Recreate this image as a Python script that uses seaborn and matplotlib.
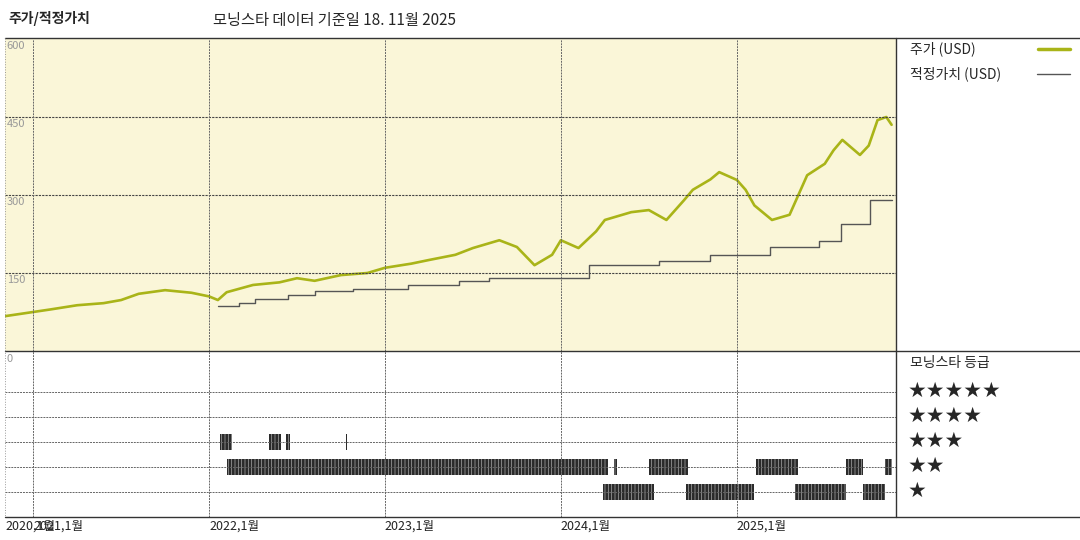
import matplotlib
matplotlib.use("Agg")
import matplotlib.pyplot as plt
import seaborn as sns
import pandas as pd

sns.set_theme(style="white")
plt.rcParams['font.family'] = ['Noto Sans CJK KR', 'DejaVu Sans']
plt.rcParams['hatch.linewidth'] = 0.5

price_t = [2020.84, 2021.0, 2021.1, 2021.25, 2021.4, 2021.5, 2021.6, 2021.75, 2021.9, 2022.0, 2022.05, 2022.1,
           2022.25, 2022.4, 2022.5, 2022.6, 2022.75, 2022.9, 2023.0, 2023.15, 2023.25, 2023.4, 2023.5, 2023.65,
           2023.75, 2023.85, 2023.95, 2024.0, 2024.1, 2024.2, 2024.25, 2024.4, 2024.5, 2024.6, 2024.7, 2024.75,
           2024.85, 2024.9, 2025.0, 2025.05, 2025.1, 2025.2, 2025.3, 2025.4, 2025.5, 2025.55, 2025.6, 2025.7,
           2025.75, 2025.8, 2025.85, 2025.88]
price_v = [67, 75, 80, 88, 92, 98, 110, 117, 112, 105, 98, 113,
           127, 132, 140, 135, 146, 150, 160, 168, 175, 185, 198, 213,
           200, 165, 185, 213, 198, 230, 252, 267, 271, 252, 290, 310,
           330, 344, 329, 310, 280, 252, 262, 338, 360, 386, 406, 377,
           395, 444, 450, 435]

fv_t = [2022.05, 2022.17, 2022.26, 2022.45, 2022.6, 2022.82, 2023.13, 2023.42, 2023.59, 2024.16, 2024.56, 2024.85,
        2025.19, 2025.47, 2025.59, 2025.76, 2025.88]
fv_v = [87, 92, 100, 108, 115, 120, 127, 135, 140, 165, 173, 185, 200, 212, 245, 290, 290]

rating_segments = {
    3: [(2022.06, 2022.13), (2022.34, 2022.41), (2022.44, 2022.46), (2022.78, 2022.785)],
    2: [(2022.10, 2024.27), (2024.30, 2024.32), (2024.50, 2024.72), (2025.11, 2025.35), (2025.62, 2025.72), (2025.84, 2025.88)],
    1: [(2024.14, 2024.145), (2024.24, 2024.53), (2024.71, 2025.10), (2025.33, 2025.62), (2025.72, 2025.84)],
}
year_labels = ["2020,1월", "2021,1월", "2022,1월", "2023,1월", "2024,1월", "2025,1월"]
year_pos = [2020.84, 2021.0, 2022.0, 2023.0, 2024.0, 2025.0]

x0, x1 = 2020.84, 2025.905
fig = plt.figure(figsize=(10.8, 5.4), dpi=100)
W, H = 1080, 540
ax = fig.add_axes([5 / W, (H - 351) / H, 891 / W, 312 / H])
ax.set_facecolor('#faf6d8')
price = pd.DataFrame({'t': price_t, 'v': price_v})
fv = pd.DataFrame({'t': fv_t, 'v': fv_v})
sns.lineplot(data=price, x='t', y='v', ax=ax, color='#a9b418', lw=1.9)
sns.lineplot(data=fv, x='t', y='v', ax=ax, color='#555555', lw=1, drawstyle='steps-post')
ax.set_xlim(x0, x1)
ax.set_ylim(0, 600)
for y in [150, 300, 450]:
    ax.axhline(y, color='#444', ls=(0, (2, 1)), lw=0.8)
for xv in [2021, 2022, 2023, 2024, 2025]:
    ax.axvline(xv, color='#666', ls=(0, (2, 1)), lw=0.7)
for y in [600, 450, 300, 150]:
    ax.text(x0 + 0.01, y - 4, str(y), color='#999', fontsize=8, va='top', ha='left')
ax.set_xticks([]); ax.set_yticks([]); ax.set_xlabel(''); ax.set_ylabel('')
for s in ax.spines.values():
    s.set_visible(False)

ax2 = fig.add_axes([5 / W, 23 / H, 891 / W, 166 / H])
ax2.set_xlim(x0, x1)
ax2.set_ylim(0, 166 / 25)
for r in [1, 2, 3, 4, 5]:
    ax2.axhline(r, color='#666', ls=(0, (2, 1)), lw=0.7)
for xv in [2021, 2022, 2023, 2024, 2025]:
    ax2.axvline(xv, color='#666', ls=(0, (2, 1)), lw=0.7)
for r, segs in rating_segments.items():
    ax2.broken_barh([(a, max(b - a, 0.004)) for a, b in segs], (r - 0.32, 0.64),
                    facecolor='#2a2a2a', edgecolor='#aaaaaa', hatch='|||||', lw=0)
ax2.text(x0 + 0.01, 6.5, '0', color='#999', fontsize=8, va='top')
ax2.set_xticks([]); ax2.set_yticks([])
for s in ax2.spines.values():
    s.set_visible(False)
for p, l in zip(year_pos, year_labels):
    ax2.text(p, -0.1, l, fontsize=9, va='top', ha='left', color='#222')

for yp in [38, 351, 517]:
    fig.add_artist(plt.Line2D([5 / W, 1], [1 - yp / H] * 2, color='#333', lw=1))
fig.add_artist(plt.Line2D([896 / W] * 2, [1 - 38 / H, 1 - 517 / H], color='#333', lw=1))
fig.add_artist(plt.Line2D([5 / W] * 2, [1 - 38 / H, 1 - 517 / H], color='#999', lw=0.7, ls=':'))

fig.text(8 / W, 1 - 18 / H, '주가/적정가치', fontsize=10, fontweight='bold', va='center')
fig.text(213 / W, 1 - 20 / H, '모닝스타 데이터 기준일 18. 11월 2025', fontsize=11, va='center')
fig.text(910 / W, 1 - 49 / H, '주가 (USD)', fontsize=10, va='center')
fig.add_artist(plt.Line2D([1038 / W, 1070 / W], [1 - 49 / H] * 2, color='#a9b418', lw=2.5))
fig.text(910 / W, 1 - 74 / H, '적정가치 (USD)', fontsize=10, va='center')
fig.add_artist(plt.Line2D([1037 / W, 1070 / W], [1 - 74 / H] * 2, color='#555', lw=1))
fig.text(910 / W, 1 - 363 / H, '모닝스타 등급', fontsize=10, va='center')
for i, n in enumerate([5, 4, 3, 2, 1]):
    fig.text(908 / W, 1 - (391 + 25 * i) / H, '★' * n, fontsize=15, va='center',
             family=['DejaVu Sans'])

fig.savefig('out.png', dpi=100)
